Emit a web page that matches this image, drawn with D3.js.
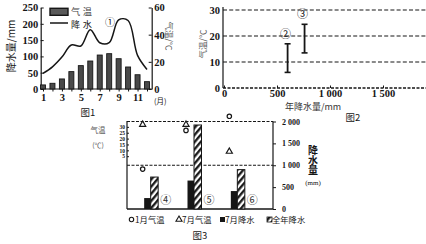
<!DOCTYPE html>
<html><head><meta charset="utf-8">
<script src="https://cdn.jsdelivr.net/npm/d3@7"></script>
<style>body{margin:0;background:#fff} svg{display:block}</style>
</head><body><svg id="c" width="426" height="244"></svg>
<script>
// ---------- Figure 1 data ----------
const fig1Months = [1,2,3,4,5,6,7,8,9,10,11,12];
const fig1Temp = [3, 4.2, 7.4, 12.8, 17.2, 20.6, 25, 26, 22.3, 16.2, 10.5, 5.4];       // 气温 (bars, ℃)
const fig1Precip = [48, 68, 98, 135, 132, 182, 142, 142, 212, 210, 103, 60];          // 降水 (line, mm)
const fig1LeftTicks = [0, 50, 100, 150, 200, 250];
const fig1RightTicks = [0, 20, 40, 60];
const fig1MonthLabels = [1, 3, 5, 7, 9, 11];
const fig1Legend = ["气温", "降水"];
// ---------- Figure 2 data ----------
const fig2Names = ["②", "③"];
const fig2Precip = [600, 760];
const fig2TempMin = [6, 13.5];
const fig2TempMax = [17, 24.5];
const fig2XTicks = [0, 500, 1000, 1500];
const fig2XTickLabels = ["0", "500", "1 000", "1 500"];
const fig2YTicks = [0, 10, 20, 30];
// ---------- Figure 3 data ----------
const fig3Places = ["④", "⑤", "⑥"];
const fig3JanTemp = [-6, 27, 39];
const fig3JulTemp = [32, 32, 9];
const fig3JulPrecip = [250, 650, 410];
const fig3AnnualPrecip = [730, 1920, 900];
const fig3RightTicks = [0, 500, 1000, 1500, 2000];
const fig3RightTickLabels = ["0", "500", "1 000", "1 500", "2 000"];
const fig3LeftTicks = [5, 10, 15, 20, 25, 30];
const fig3Legend = ["1月气温", "7月气温", "7月降水", "全年降水"];

const ink = "#161616";
const cjk = "'Noto Sans CJK SC', sans-serif";
const serif = "'Liberation Serif', 'DejaVu Serif', serif";
const svg = d3.select("#c");
const defs = svg.append("defs");
const pat = defs.append("pattern").attr("id", "hatch").attr("patternUnits", "userSpaceOnUse")
  .attr("width", 4.6).attr("height", 4.6).attr("patternTransform", "rotate(40)");
pat.append("rect").attr("width", 4.6).attr("height", 4.6).attr("fill", "#fff");
pat.append("line").attr("x1", 1.2).attr("x2", 1.2).attr("y1", 0).attr("y2", 4.6)
  .attr("stroke", ink).attr("stroke-width", 2.3);

function styleAxis(g, size, font) {
  g.select(".domain").attr("stroke", ink).attr("stroke-width", 1.2);
  g.selectAll(".tick line").attr("stroke", ink).attr("stroke-width", 1);
  g.selectAll("text").attr("font-family", font || serif).attr("font-size", size)
    .attr("font-weight", "bold").attr("fill", ink);
}

// ================= Figure 1 =================
const x1 = d3.scaleLinear().domain([1, 12]).range([43, 147]);
const y1L = d3.scaleLinear().domain([0, 250]).range([89, 7.5]);
const y1R = d3.scaleLinear().domain([0, 60]).range([89, 7.5]);
const g1 = svg.append("g");

g1.append("g").attr("transform", "translate(40.7,0)")
  .call(d3.axisLeft(y1L).tickValues(fig1LeftTicks).tickSizeInner(-3).tickSizeOuter(0).tickPadding(2.5))
  .call(g => styleAxis(g, 10.5));
g1.append("g").attr("transform", "translate(151.7,0)")
  .call(d3.axisRight(y1R).tickValues(fig1RightTicks).tickSizeInner(-3).tickSizeOuter(0).tickPadding(2.5))
  .call(g => styleAxis(g, 10.5));
g1.append("g").attr("transform", "translate(0,89)")
  .call(d3.axisBottom(x1).tickValues(fig1Months).tickSizeInner(2.5).tickSizeOuter(0).tickPadding(2)
    .tickFormat(d => fig1MonthLabels.includes(d) ? d : ""))
  .call(g => styleAxis(g, 10.5))
  .call(g => g.select(".domain").remove());
g1.append("line").attr("x1", 40.7).attr("x2", 151.7).attr("y1", 89).attr("y2", 89)
  .attr("stroke", ink).attr("stroke-width", 1.2);

g1.selectAll("rect.bar").data(fig1Temp).join("rect").attr("class", "bar")
  .attr("x", (d, i) => x1(fig1Months[i]) - 2.5).attr("width", 5)
  .attr("y", d => y1R(d)).attr("height", d => y1R(0) - y1R(d))
  .attr("fill", "#4a4a4a").attr("stroke", ink).attr("stroke-width", 0.9);

g1.append("path").datum(fig1Precip)
  .attr("d", d3.line().x((d, i) => x1(fig1Months[i])).y(d => y1L(d)).curve(d3.curveCatmullRom.alpha(0.5)))
  .attr("fill", "none").attr("stroke", ink).attr("stroke-width", 1.5);

// legend
g1.append("rect").attr("x", 50).attr("y", 8.3).attr("width", 18).attr("height", 7)
  .attr("fill", "#5a5a5a").attr("stroke", ink).attr("stroke-width", 1.4);
g1.append("line").attr("x1", 50).attr("x2", 68).attr("y1", 23).attr("y2", 23)
  .attr("stroke", ink).attr("stroke-width", 1.5);
fig1Legend.forEach((t, i) => g1.append("text").attr("x", 71).attr("y", 14.5 + i * 13.6).text(t)
  .attr("font-family", cjk).attr("font-size", 9.2).attr("letter-spacing", 2.5)
  .attr("fill", i === 0 ? "#444" : ink));
g1.append("text").attr("x", 110).attr("y", 26).text("①").attr("text-anchor", "middle")
  .attr("font-family", cjk).attr("font-size", 10).attr("fill", ink);
g1.append("text").attr("transform", "translate(15,46) rotate(-90)").attr("text-anchor", "middle")
  .text("降水量/mm").attr("font-family", cjk).attr("font-size", 10).attr("fill", ink);
g1.append("text").attr("transform", "translate(166,36) rotate(90)").attr("text-anchor", "middle")
  .text("气温/℃").attr("font-family", cjk).attr("font-size", 8.5).attr("fill", "#555");
g1.append("text").attr("x", 154).attr("y", 103.5).text("(月)")
  .attr("font-family", cjk).attr("font-size", 7.5).attr("fill", ink);
g1.append("text").attr("x", 88).attr("y", 115.5).attr("text-anchor", "middle").text("图1")
  .attr("font-family", cjk).attr("font-size", 9.5).attr("fill", ink);

// ================= Figure 2 =================
const x2 = d3.scaleLinear().domain([0, 1500]).range([224, 383]);
const y2 = d3.scaleLinear().domain([0, 30]).range([88, 10]);
const g2 = svg.append("g");
g2.selectAll("line.grid").data(fig2YTicks).join("line").attr("class", "grid")
  .attr("x1", 223).attr("x2", 426).attr("y1", d => y2(d)).attr("y2", d => y2(d))
  .attr("stroke", ink).attr("stroke-width", d => d === 0 ? 1.3 : 1.2)
  .attr("stroke-dasharray", d => d === 0 ? "3,1.5" : "4,2.2");
g2.append("g").attr("transform", "translate(223,0)")
  .call(d3.axisLeft(y2).tickValues(fig2YTicks).tickSizeInner(0).tickSizeOuter(0).tickPadding(3))
  .call(g => styleAxis(g, 10.5))
  .call(g => g.select(".domain").attr("d", "M0,7V88"));
g2.append("g").attr("transform", "translate(0,88)")
  .call(d3.axisBottom(x2).tickValues(fig2XTicks).tickSizeInner(-2.5).tickSizeOuter(0).tickPadding(1.5)
    .tickFormat((d, i) => fig2XTickLabels[i]))
  .call(g => styleAxis(g, 10.5))
  .call(g => g.select(".domain").remove());
const eb = g2.selectAll("g.eb").data(fig2Names).join("g").attr("class", "eb");
eb.append("line").attr("x1", (d, i) => x2(fig2Precip[i])).attr("x2", (d, i) => x2(fig2Precip[i]))
  .attr("y1", (d, i) => y2(fig2TempMax[i])).attr("y2", (d, i) => y2(fig2TempMin[i]))
  .attr("stroke", ink).attr("stroke-width", 1.8);
eb.append("line").attr("x1", (d, i) => x2(fig2Precip[i]) - 3).attr("x2", (d, i) => x2(fig2Precip[i]) + 3)
  .attr("y1", (d, i) => y2(fig2TempMax[i])).attr("y2", (d, i) => y2(fig2TempMax[i]))
  .attr("stroke", ink).attr("stroke-width", 1.6);
eb.append("line").attr("x1", (d, i) => x2(fig2Precip[i]) - 3).attr("x2", (d, i) => x2(fig2Precip[i]) + 3)
  .attr("y1", (d, i) => y2(fig2TempMin[i])).attr("y2", (d, i) => y2(fig2TempMin[i]))
  .attr("stroke", ink).attr("stroke-width", 1.6);
eb.append("text").attr("x", (d, i) => x2(fig2Precip[i]) - 2).attr("y", (d, i) => y2(fig2TempMax[i]) - 6)
  .attr("text-anchor", "middle").text(d => d)
  .attr("font-family", cjk).attr("font-size", 11).attr("fill", ink);
g2.append("text").attr("transform", "translate(206,44) rotate(-90)").attr("text-anchor", "middle")
  .text("气温/℃").attr("font-family", cjk).attr("font-size", 8.5).attr("fill", "#555");
g2.append("text").attr("x", 313).attr("y", 110).attr("text-anchor", "middle").text("年降水量/mm")
  .attr("font-family", cjk).attr("font-size", 9).attr("fill", "#333");
g2.append("text").attr("x", 353).attr("y", 121).attr("text-anchor", "middle").text("图2")
  .attr("font-family", cjk).attr("font-size", 9.5).attr("fill", ink);

// ================= Figure 3 =================
const x3 = d3.scaleBand().domain(fig3Places).range([129, 259]).padding(0);
const y3R = d3.scaleLinear().domain([0, 2000]).range([209, 121.5]);
const y3L = d3.scaleLinear().domain([-40, 35]).range([209, 121]);
const g3 = svg.append("g");
const cx = p => x3(p) + x3.bandwidth() / 2;

g3.append("line").attr("x1", 127).attr("x2", 273).attr("y1", 121.5).attr("y2", 121.5)
  .attr("stroke", ink).attr("stroke-width", 1.1).attr("stroke-dasharray", "3,1.5");
g3.append("line").attr("x1", 127).attr("x2", 273).attr("y1", y3R(1000)).attr("y2", y3R(1000))
  .attr("stroke", ink).attr("stroke-width", 1.1).attr("stroke-dasharray", "3,1.5");
g3.append("line").attr("x1", 127).attr("x2", 273).attr("y1", 209).attr("y2", 209)
  .attr("stroke", ink).attr("stroke-width", 1.3);
g3.append("g").attr("transform", "translate(127,0)")
  .call(d3.axisLeft(y3L).tickValues(fig3LeftTicks).tickSizeInner(-2).tickSizeOuter(0).tickPadding(2))
  .call(g => styleAxis(g, 5.5))
  .call(g => g.select(".domain").attr("d", "M0,121V209"));
g3.append("g").attr("transform", "translate(273,0)")
  .call(d3.axisRight(y3R).tickValues(fig3RightTicks).tickSizeInner(3).tickSizeOuter(0).tickPadding(6)
    .tickFormat((d, i) => fig3RightTickLabels[i]))
  .call(g => styleAxis(g, 8))
  .call(g => g.select(".domain").attr("d", "M0,121.5V209"));

g3.selectAll("rect.jul").data(fig3Places).join("rect").attr("class", "jul")
  .attr("x", p => cx(p) - 6.5).attr("width", 6.5)
  .attr("y", (p, i) => y3R(fig3JulPrecip[i])).attr("height", (p, i) => 209 - y3R(fig3JulPrecip[i]))
  .attr("fill", ink);
g3.selectAll("rect.ann").data(fig3Places).join("rect").attr("class", "ann")
  .attr("x", p => cx(p)).attr("width", 7.5)
  .attr("y", (p, i) => y3R(fig3AnnualPrecip[i])).attr("height", (p, i) => 209 - y3R(fig3AnnualPrecip[i]))
  .attr("fill", "url(#hatch)").attr("stroke", ink).attr("stroke-width", 1);
const tri = d3.symbol().type(d3.symbolTriangle).size(16);
g3.selectAll("path.jt").data(fig3Places).join("path").attr("class", "jt")
  .attr("transform", (p, i) => `translate(${cx(p) - 8},${y3L(fig3JulTemp[i])})`).attr("d", tri)
  .attr("fill", "#fff").attr("stroke", ink).attr("stroke-width", 1.2);
g3.selectAll("circle.jn").data(fig3Places).join("circle").attr("class", "jn")
  .attr("cx", p => cx(p) - 8).attr("cy", (p, i) => y3L(fig3JanTemp[i])).attr("r", 2.2)
  .attr("fill", "#fff").attr("stroke", ink).attr("stroke-width", 1.2);
g3.selectAll("text.pl").data(fig3Places).join("text").attr("class", "pl")
  .attr("x", p => cx(p) + 15).attr("y", 203.5).attr("text-anchor", "middle").text(p => p)
  .attr("font-family", cjk).attr("font-size", 11).attr("fill", "#333");

// side labels
g3.append("text").attr("x", 98).attr("y", 133).attr("text-anchor", "middle").text("气温")
  .attr("font-family", cjk).attr("font-size", 7.5).attr("fill", "#555");
g3.append("text").attr("x", 98).attr("y", 148).attr("text-anchor", "middle").text("(℃)")
  .attr("font-family", cjk).attr("font-size", 7).attr("fill", "#555");
g3.append("text").attr("x", 313).attr("y", 145).attr("writing-mode", "vertical-rl")
  .attr("text-anchor", "start").text("降水量").attr("font-family", cjk).attr("font-size", 10)
  .attr("font-weight", "bold").attr("fill", ink);
g3.append("text").attr("x", 313).attr("y", 185).attr("text-anchor", "middle").text("(mm)")
  .attr("font-family", serif).attr("font-size", 7).attr("fill", ink);

// legend
const lg = g3.append("g").attr("font-family", cjk).attr("font-size", 8.3).attr("fill", ink);
const lx = [130, 177, 220, 267];
lg.append("circle").attr("cx", lx[0] + 1.5).attr("cy", 219.5).attr("r", 2.2).attr("fill", "#fff")
  .attr("stroke", ink).attr("stroke-width", 1.1);
lg.append("path").attr("transform", `translate(${lx[1] + 2},219.5)`).attr("d", tri)
  .attr("fill", "#fff").attr("stroke", ink).attr("stroke-width", 1.1);
lg.append("rect").attr("x", lx[2]).attr("y", 217).attr("width", 5).attr("height", 5).attr("fill", ink);
lg.append("rect").attr("x", lx[3]).attr("y", 217).attr("width", 5).attr("height", 5)
  .attr("fill", "url(#hatch)").attr("stroke", ink).attr("stroke-width", 0.8);
fig3Legend.forEach((t, i) => lg.append("text").attr("x", lx[i] + 5).attr("y", 223).text(t));
g3.append("text").attr("x", 200).attr("y", 238.5).attr("text-anchor", "middle").text("图3")
  .attr("font-family", cjk).attr("font-size", 9.5).attr("fill", ink);
</script></body></html>
